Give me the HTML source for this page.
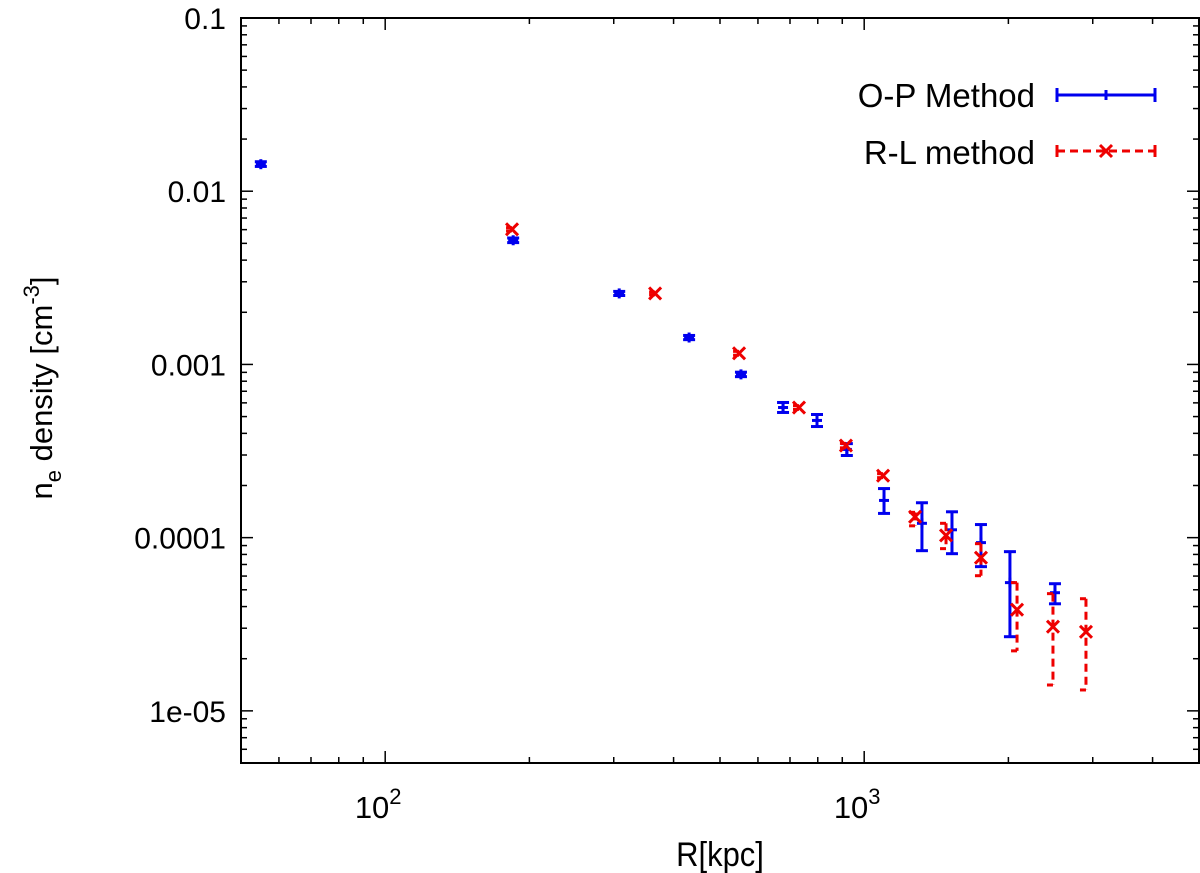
<!DOCTYPE html>
<html><head><meta charset="utf-8">
<style>
html,body{margin:0;padding:0;background:#fff;}
svg{display:block;font-family:"Liberation Sans",Arial,sans-serif;}
</style></head>
<body>
<svg id="chart" width="1200" height="873" viewBox="0 0 1200 873" xmlns="http://www.w3.org/2000/svg">
<rect x="0" y="0" width="1200" height="873" fill="#fff"/>
<g id="ticks"></g>
<g id="marks"></g>
<rect x="241" y="18" width="958" height="745" fill="none" stroke="#000" stroke-width="2"/>
<text x="720" y="866" font-size="31" text-anchor="middle" transform="translate(720,866) scale(1,1.1) translate(-720,-866)">R[kpc]</text>
<text transform="translate(52,388) rotate(-90)" font-size="31" text-anchor="middle">n<tspan font-size="22" dy="9">e</tspan><tspan dy="-9"> density [cm</tspan><tspan font-size="22" dy="-13">-3</tspan><tspan dy="13">]</tspan></text>
<g>
<text x="1035" y="107" font-size="33" text-anchor="end">O-P Method</text>
<text x="1035" y="164" font-size="33" text-anchor="end">R-L method</text>
<g stroke="#0000ee" stroke-width="3">
<line x1="1057" y1="95" x2="1155" y2="95"/><line x1="1057" y1="88" x2="1057" y2="102"/><line x1="1155" y1="88" x2="1155" y2="102"/><line x1="1106" y1="90" x2="1106" y2="100"/>
</g>
<g stroke="#ee0000" stroke-width="3">
<line x1="1057" y1="151" x2="1155" y2="151" stroke-dasharray="8,5"/><line x1="1057" y1="145" x2="1057" y2="157"/><line x1="1155" y1="145" x2="1155" y2="157"/>
<line x1="1100" y1="145" x2="1112" y2="157"/><line x1="1100" y1="157" x2="1112" y2="145"/>
</g>
</g>
</svg>
<script>
// O-P method (blue)
const opR = [55, 185, 308, 431, 553, 677, 797, 920, 1100, 1320, 1525, 1753, 2015, 2502];
const opN = [0.01432, 0.00521, 0.00257, 0.00143, 0.000876, 0.000564, 0.000475, 0.000323, 0.000164, 0.000121, 0.000111, 0.0000936, 0.000055, 0.0000481];
const opLo = [0.0139, 0.00505, 0.00250, 0.00139, 0.000850, 0.000528, 0.000438, 0.000298, 0.000138, 0.0000841, 0.0000808, 0.000068, 0.0000268, 0.0000415];
const opHi = [0.0148, 0.00537, 0.00264, 0.00147, 0.000902, 0.000603, 0.000514, 0.000349, 0.000192, 0.000159, 0.000141, 0.000119, 0.000083, 0.0000542];
// R-L method (red)
const rlR = [184, 366, 548, 731, 916, 1095, 1277, 1482, 1753, 2085, 2478, 2904];
const rlN = [0.00603, 0.00257, 0.00116, 0.000564, 0.00034, 0.000228, 0.000132, 0.000103, 0.0000766, 0.0000384, 0.0000306, 0.0000286];
const rlLo = [0.00590, 0.00252, 0.00113, 0.000550, 0.00033, 0.000222, 0.000117, 0.0000864, 0.0000603, 0.0000222, 0.0000141, 0.0000132];
const rlHi = [0.00616, 0.00262, 0.00119, 0.000578, 0.00035, 0.000234, 0.00014, 0.000121, 0.0000923, 0.000055, 0.0000475, 0.0000444];
const yTickVals = [0.1, 0.01, 0.001, 0.0001, 0.00001];
const yTickLabels = ["0.1", "0.01", "0.001", "0.0001", "1e-05"];
const xTickVals = [100, 1000];
const xTickExp = ["2", "3"];

const L=241,R=1199,T=18,B=763;
const xMin=50,xMax=5000,yMin=5e-6,yMax=0.1;
const sx=v=>L+(R-L)*Math.log10(v/xMin)/Math.log10(xMax/xMin);
const sy=v=>B-(B-T)*Math.log10(v/yMin)/Math.log10(yMax/yMin);
const NS="http://www.w3.org/2000/svg";
function mk(tag,attrs,parent){const e=document.createElementNS(NS,tag);for(const k in attrs)e.setAttribute(k,attrs[k]);parent.appendChild(e);return e;}
const tg=document.getElementById('ticks'), mg=document.getElementById('marks');

for(let d=10;d<=5000;d*=10){for(let m=1;m<10;m++){const v=d*m;if(v<xMin||v>xMax)continue;const x=sx(v);const len=m===1?12:6;
 const t1=mk('line',{x1:x,y1:B,x2:x,y2:B-len,stroke:'#000','stroke-width':1.5},tg);
 
 
 const t2=mk('line',{x1:x,y1:T,x2:x,y2:T+len,stroke:'#000','stroke-width':1.5},tg);
 
 }}
xTickVals.forEach((v,i)=>{const t=mk('text',{x:sx(v)-7,y:818,'font-size':31,'text-anchor':'middle'},tg);
 
 
 t.textContent='10';const s=mk('tspan',{'font-size':22,dy:-14},t);s.textContent=xTickExp[i];});
for(let d=1e-6;d<=0.1;d*=10){for(let m=1;m<10;m++){const v=d*m;if(v<yMin*0.999||v>yMax*1.001)continue;const y=sy(v);const len=m===1?12:6;
 const t1=mk('line',{x1:L,y1:y,x2:L+len,y2:y,stroke:'#000','stroke-width':1.5},tg);
 
 
 const t2=mk('line',{x1:R,y1:y,x2:R-len,y2:y,stroke:'#000','stroke-width':1.5},tg);
 
 }}
yTickVals.forEach((v,i)=>{const t=mk('text',{x:226,y:sy(v)+11,'font-size':30,'text-anchor':'end'},tg);
 
 
 t.textContent=yTickLabels[i];});

opR.forEach((r,i)=>{const g=mk('g',{stroke:'#0000ee','stroke-width':3},mg);
 
 
 const x=sx(r),y=sy(opN[i]),y1=sy(opHi[i]),y2=sy(opLo[i]);
 mk('line',{x1:x,y1:y1,x2:x,y2:y2},g);
 mk('line',{x1:x-6,y1:y1,x2:x+6,y2:y1},g);
 mk('line',{x1:x-6,y1:y2,x2:x+6,y2:y2},g);
 mk('line',{x1:x-5,y1:y,x2:x+5,y2:y},g);
 mk('line',{x1:x,y1:y-5,x2:x,y2:y+5},g);});
rlR.forEach((r,i)=>{const g=mk('g',{stroke:'#ee0000','stroke-width':3},mg);
 
 
 const x=sx(r),y=sy(rlN[i]),y1=sy(rlHi[i]),y2=sy(rlLo[i]);
 mk('line',{x1:x,y1:y1,x2:x,y2:y2,'stroke-dasharray':'8,5'},g);
 mk('line',{x1:x-6,y1:y1,x2:x,y2:y1},g);
 mk('line',{x1:x-6,y1:y2,x2:x,y2:y2},g);
 mk('line',{x1:x-6,y1:y-6,x2:x+6,y2:y+6},g);
 mk('line',{x1:x-6,y1:y+6,x2:x+6,y2:y-6},g);});
</script>
</body></html>
